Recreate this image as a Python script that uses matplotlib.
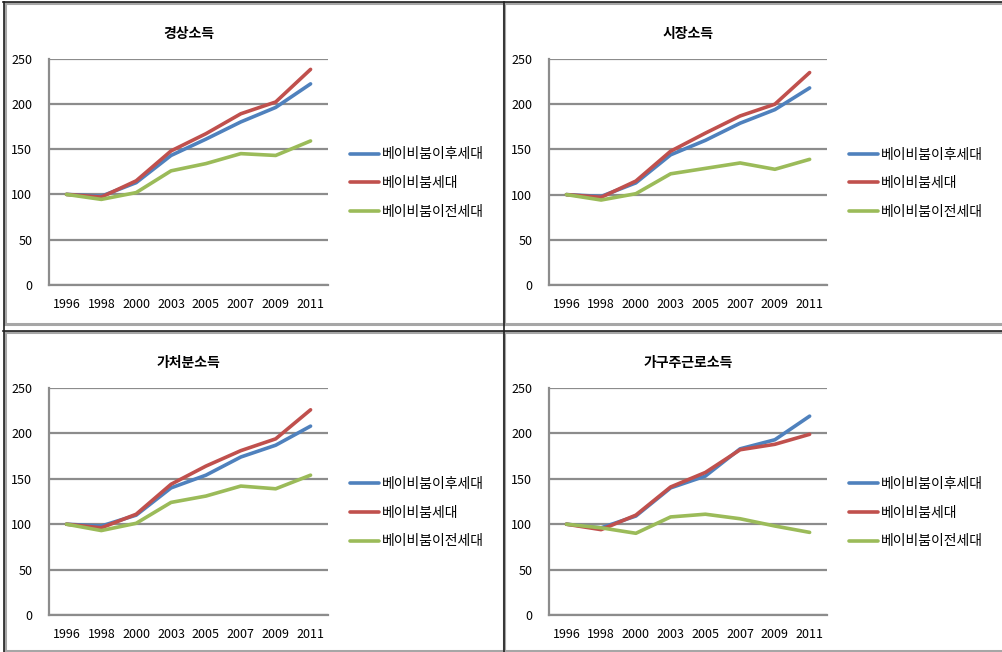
import matplotlib
matplotlib.use('Agg')
import matplotlib.pyplot as plt
from matplotlib.lines import Line2D

plt.rcParams['font.family'] = ['Noto Sans CJK KR', 'DejaVu Sans']

years = ['1996', '1998', '2000', '2003', '2005', '2007', '2009', '2011']
series_names = ['베이비붐이후세대', '베이비붐세대', '베이비붐이전세대']
colors = ['#4F81BD', '#C0504D', '#9BBB59']

titles = ['경상소득', '시장소득', '가처분소득', '가구주근로소득']

# 경상소득
current_after = [100, 98, 113, 143, 161, 180, 196, 222]
current_boom = [100, 97, 115, 148, 167, 189, 202, 238]
current_before = [100, 94.5, 102, 126, 134, 145, 143, 159]
# 시장소득
market_after = [100, 98, 113, 144, 160, 179, 194, 218]
market_boom = [100, 97, 115, 148, 168, 187, 200, 235]
market_before = [100, 94, 101, 123, 129, 135, 128, 139]
# 가처분소득
dispos_after = [100, 98, 110, 140, 154, 174, 187, 208]
dispos_boom = [100, 96, 111, 144, 164, 181, 194, 226]
dispos_before = [100, 93, 101, 124, 131, 142, 139, 154]
# 가구주근로소득
labor_after = [100, 96, 109, 140, 153, 183, 193, 219]
labor_boom = [100, 94, 110, 141, 157, 182, 188, 199]
labor_before = [100, 96, 90, 108, 111, 106, 98, 91]

panel_data = [
    [current_after, current_boom, current_before],
    [market_after, market_boom, market_before],
    [dispos_after, dispos_boom, dispos_before],
    [labor_after, labor_boom, labor_before],
]

W, H = 1002, 652
fig = plt.figure(figsize=(W / 100, H / 100), dpi=100)

def fx(px):
    return px / W

def fy(py):
    return 1 - py / H

# panel frames (pixel coords): left, top, right, bottom
frames = [(5, 3, 504, 324), (504, 3, 1010, 324),
          (5, 332, 504, 651), (504, 332, 1010, 651)]
# plot areas (pixel coords)
areas = [(49, 58.5, 328, 285), (549, 59, 827, 285),
         (49, 388, 328, 615), (549, 388, 827, 615)]

for (l, t, r, b) in frames:
    for xs, ys in [((l, r), (t, t)), ((l, r), (b, b)), ((l, l), (t, b)), ((r, r), (t, b))]:
        fig.add_artist(Line2D([fx(x) for x in xs], [fy(y) for y in ys],
                              color='#A6A6A6', lw=2.2))
# dark outer strokes
fig.add_artist(Line2D([fx(3), fx(1002)], [fy(2), fy(2)], color='#222222', lw=1.2))
fig.add_artist(Line2D([fx(4), fx(4)], [fy(2), fy(652)], color='#222222', lw=1.2))
fig.add_artist(Line2D([fx(504), fx(504)], [fy(2), fy(652)], color='#222222', lw=1.2))
fig.add_artist(Line2D([fx(3), fx(1002)], [fy(331), fy(331)], color='#222222', lw=1.2))

x = list(range(len(years)))
for i, (l, t, r, b) in enumerate(areas):
    ax = fig.add_axes([fx(l), fy(b), fx(r - l), (b - t) / H])
    for vals, name, c in zip(panel_data[i], series_names, colors):
        ax.plot(x, vals, color=c, lw=2.6, label=name, solid_capstyle='round')
    ax.set_xlim(-0.5, len(years) - 0.5)
    ax.set_ylim(0, 250)
    ax.set_yticks([0, 50, 100, 150, 200, 250])
    ax.set_xticks(x)
    ax.set_xticklabels(years)
    ax.tick_params(length=0, labelsize=9, colors='black')
    ax.tick_params(axis='y', pad=12)
    ax.tick_params(axis='x', pad=9)
    ax.grid(axis='y', color='#8C8C8C', lw=1.6)
    ax.set_axisbelow(True)
    for s in ['top', 'right']:
        ax.spines[s].set_visible(False)
    for s in ['left', 'bottom']:
        ax.spines[s].set_color('#8C8C8C')
        ax.spines[s].set_linewidth(1.6)
    ax.set_title(titles[i], fontsize=10, fontweight='bold', pad=15)
    leg = ax.legend(loc='center left', bbox_to_anchor=(1.06, 0.45), frameon=False,
                    fontsize=10, handlelength=2.1, handletextpad=0.15,
                    labelspacing=1.05, borderaxespad=0)

fig.savefig('out.png', dpi=100, facecolor='white')
